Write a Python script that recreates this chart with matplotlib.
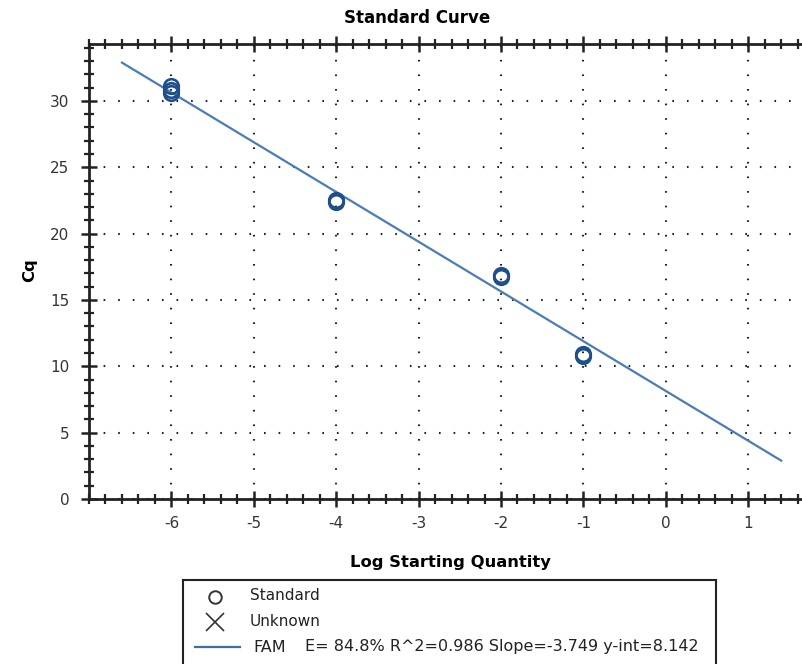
import numpy as np
import matplotlib.pyplot as plt
from matplotlib.ticker import MultipleLocator
from matplotlib.lines import Line2D

# standard points
log_qty = [-6, -6, -6, -4, -4, -2, -2, -1, -1]
cq = [31.1, 30.6, 30.8, 22.4, 22.5, 16.9, 16.7, 10.8, 10.9]

# fitted line (FAM)
slope = -3.749
y_int = 8.142
line_x = [-6.6, 1.4]
fit_text = "E= 84.8% R^2=0.986 Slope=-3.749 y-int=8.142"

plt.rcParams["font.family"] = ["DejaVu Sans"]
plt.rcParams["axes.unicode_minus"] = False

fig = plt.figure(figsize=(8.02, 6.64), dpi=100)
ax = fig.add_axes([89 / 802, 165 / 664, 722 / 802, 455 / 664])

ax.set_xlim(-7, -7 + 722 / 82.4)
ax.set_ylim(0, 455 / 13.27)

lx = np.array(line_x)
ax.plot(lx, slope * lx + y_int, color="#4a7db5", lw=1.6, zorder=2)
ax.plot(log_qty, cq, "o", ms=10.5, mfc="none", mec="#1d4f8c", mew=1.9, zorder=3)

ax.xaxis.set_major_locator(MultipleLocator(1))
ax.xaxis.set_minor_locator(MultipleLocator(0.2))
ax.yaxis.set_major_locator(MultipleLocator(5))
ax.yaxis.set_minor_locator(MultipleLocator(1))
ax.set_xticks([-6, -5, -4, -3, -2, -1, 0, 1])

ax.grid(True, which="major", color="#222222", lw=1.5, linestyle=(0, (0.8, 6.2)))
for s in ["left", "bottom", "top"]:
    ax.spines[s].set_linewidth(2)
    ax.spines[s].set_color("#222222")
ax.spines["right"].set_visible(False)

ax.tick_params(which="major", direction="inout", length=12, width=1.8,
               color="#222222", labelsize=11, labelcolor="#333333", top=True)
ax.tick_params(which="minor", direction="inout", length=7, width=1.6,
               color="#222222", top=True)
ax.tick_params(axis="x", pad=6)
ax.tick_params(axis="y", pad=8)

fig.text(417 / 802, 1 - 18 / 664, "Standard Curve", ha="center", va="center",
         fontsize=12, fontweight="bold")
fig.text(450 / 802, 1 - 563 / 664, "Log Starting Quantity", ha="center",
         va="center", fontsize=11.8, fontweight="bold")
fig.text(30 / 802, 1 - 270 / 664, "Cq", ha="center", va="center",
         fontsize=11.8, fontweight="bold", rotation=90)

# legend box drawn by hand (it runs off the bottom of the picture)
lg = fig.add_axes([183 / 802, -20 / 664, 533 / 802, 104 / 664])
lg.set_xlim(183, 716)
lg.set_ylim(684, 580)
lg.set_xticks([])
lg.set_yticks([])
for s in lg.spines.values():
    s.set_linewidth(1.5)
    s.set_color("#222222")
lg.add_line(Line2D([215], [597], marker="o", ms=9, mfc="none", mec="#333333", mew=1.4))
lg.add_line(Line2D([215], [622], marker="x", ms=13, mec="#333333", mew=1.2))
lg.add_line(Line2D([195, 240], [647, 647], color="#3d6da6", lw=1.6))
lg.text(250, 596, "Standard", va="center", fontsize=11, color="#222222")
lg.text(250, 621, "Unknown", va="center", fontsize=11, color="#222222")
lg.text(253, 647, "FAM", va="center", fontsize=11.5, color="#222222")
lg.text(305, 647, fit_text, va="center", fontsize=11.5, color="#222222")

fig.savefig("out.png", dpi=100)
